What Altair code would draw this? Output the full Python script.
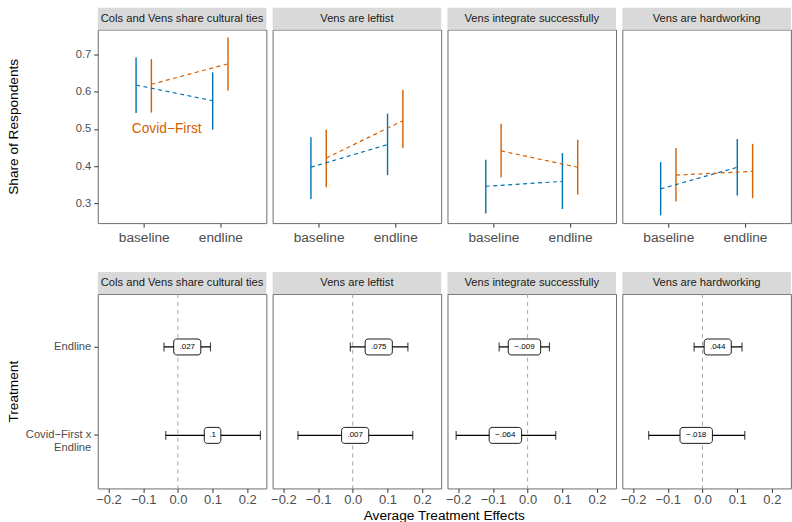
import altair as alt
import pandas as pd

FONT = "Liberation Sans"
BLUE = "#0072B2"
ORANGE = "#D55E00"

panels = ["Cols and Vens share cultural ties", "Vens are leftist",
          "Vens integrate successfully", "Vens are hardworking"]
groups = ["Control", "Covid−First"]
times = ["baseline", "endline"]

# top row: share of respondents, [baseline, endline] per panel
ctrl_mean = [[0.618, 0.576], [0.397, 0.458], [0.346, 0.359], [0.339, 0.397]]
ctrl_lo = [[0.543, 0.498], [0.312, 0.376], [0.273, 0.285], [0.268, 0.321]]
ctrl_hi = [[0.692, 0.652], [0.478, 0.541], [0.417, 0.435], [0.411, 0.473]]
covid_mean = [[0.620, 0.675], [0.422, 0.522], [0.441, 0.397], [0.376, 0.386]]
covid_lo = [[0.544, 0.603], [0.343, 0.449], [0.370, 0.324], [0.305, 0.314]]
covid_hi = [[0.688, 0.746], [0.498, 0.605], [0.514, 0.471], [0.449, 0.460]]

annot_text = ["Covid−First"]
annot_x = [1.3]
annot_y = [0.5]

# bottom row: average treatment effects
rows = ["Endline", "Covid−First x\nEndline"]
est = [[0.027, 0.100], [0.075, 0.007], [-0.009, -0.064], [0.044, -0.018]]
ci_lo = [[-0.040, -0.035], [-0.007, -0.158], [-0.082, -0.206], [-0.024, -0.155]]
ci_hi = [[0.094, 0.238], [0.159, 0.173], [0.063, 0.081], [0.114, 0.122]]
est_labels = [[".027", ".1"], [".075", ".007"], ["−.009", "−.064"], [".044", "−.018"]]
x_title = ["Average Treatment Effects"]

x_ticks_bottom = [-0.2, -0.1, 0.0, 0.1, 0.2]
y_ticks_top = [0.3, 0.4, 0.5, 0.6, 0.7]

W = 169
H_TOP = 194
H_BOT = 195
STRIP = 22
GAP = 6.3
LEFT = 97      # room left of the first panel
TOP = 28       # room above the first plot area
BOTTOM = 34    # room below the last plot area
TOP_XDOM = [0.4, 2.6]
TOP_YDOM = [0.247, 0.767]
BOT_XDOM = [-0.231, 0.255]
PX_PER_UNIT = W / (BOT_XDOM[1] - BOT_XDOM[0])

recs = []
for p, name in enumerate(panels):
    for g, (m, lo, hi) in enumerate([(ctrl_mean, ctrl_lo, ctrl_hi),
                                     (covid_mean, covid_lo, covid_hi)]):
        for t, tname in enumerate(times):
            recs.append({"panel": name, "group": groups[g], "time": tname,
                         "mean": m[p][t], "lo": lo[p][t], "hi": hi[p][t]})
top_df = pd.DataFrame(recs)

recs = []
for p, name in enumerate(panels):
    for r, rname in enumerate(rows):
        recs.append({"panel": name, "row": rname, "est": est[p][r],
                     "lo": ci_lo[p][r], "hi": ci_hi[p][r], "lab": est_labels[p][r]})
bot_df = pd.DataFrame(recs)

color = alt.Color("group:N", scale=alt.Scale(domain=groups, range=[BLUE, ORANGE]), legend=None)


def strip_layers(name):
    sdf = pd.DataFrame({"panel": [name]})
    rect = alt.Chart(sdf).mark_rect(fill="#D9D9D9").encode(
        x=alt.value(0), x2=alt.value(W), y=alt.value(-STRIP), y2=alt.value(0))
    txt = alt.Chart(sdf).mark_text(font=FONT, fontSize=11.2, color="#1A1A1A").encode(
        x=alt.value(W / 2), y=alt.value(-STRIP / 2), text="panel:N")
    return [rect, txt]


def anchor(x1, x2, y1, y2):
    # invisible frame that fixes the outer extent of the drawing
    adf = pd.DataFrame({"a": [0]})
    return alt.Chart(adf).mark_rect(opacity=0).encode(
        x=alt.value(x1), x2=alt.value(x2), y=alt.value(y1), y2=alt.value(y2))


def top_panel(i):
    name = panels[i]
    df = top_df[top_df.panel == name]
    base = alt.Chart(df).transform_calculate(
        pos=f"indexof({times}, datum.time) + 1 + (datum.group == '{groups[1]}' ? 0.1 : -0.1)"
    )
    xaxis = alt.Axis(values=[1, 2], labelExpr=f"{times}[datum.value - 1]", title=None,
                     labelFontSize=13.7)
    xscale = alt.Scale(domain=TOP_XDOM, nice=False, zero=False)
    xenc = alt.X("pos:Q", scale=xscale, axis=xaxis)
    yscale = alt.Scale(domain=TOP_YDOM, nice=False, zero=False)
    if i == 0:
        yaxis = alt.Axis(values=y_ticks_top, format=".1f", title="Share of Respondents",
                         titleX=-80, titleBaseline="alphabetic")
    else:
        yaxis = None
    rules = base.mark_rule(strokeWidth=1.4).encode(
        x=xenc, y=alt.Y("lo:Q", scale=yscale, axis=yaxis), y2="hi:Q", color=color)
    lines = base.mark_line(strokeDash=[4, 3.5], strokeWidth=1.2).encode(
        x=xenc, y=alt.Y("mean:Q", scale=yscale, axis=yaxis), color=color, detail="group:N")
    layers = [rules, lines]
    if i == 0:
        adf = pd.DataFrame({"t": annot_text, "x": annot_x, "y": annot_y})
        ann = alt.Chart(adf).mark_text(font=FONT, fontSize=13.8, color=ORANGE).encode(
            x=alt.X("x:Q", scale=xscale, axis=xaxis),
            y=alt.Y("y:Q", scale=yscale, axis=yaxis), text="t:N")
        layers.append(ann)
        layers.append(anchor(-LEFT, 0, -TOP, 0))
    layers += strip_layers(name)
    return alt.layer(*layers).properties(width=W, height=H_TOP)


def bot_panel(i):
    name = panels[i]
    df = bot_df[bot_df.panel == name]
    base = alt.Chart(df).transform_calculate(
        bl=f"datum.est - (5.3 * length(datum.lab) + 6) / 2 / {PX_PER_UNIT}",
        br=f"datum.est + (5.3 * length(datum.lab) + 6) / 2 / {PX_PER_UNIT}",
    )
    xscale = alt.Scale(domain=BOT_XDOM, nice=False, zero=False)
    xaxis = alt.Axis(values=x_ticks_bottom, format=".1f", title=None, labelFontSize=13,
                     labelPadding=1.5)
    yscale = alt.Scale(type="band", domain=rows, paddingInner=0, paddingOuter=0.1)
    if i == 0:
        yaxis = alt.Axis(title="Treatment", labelExpr="split(datum.label, '\\n')",
                         labelLineHeight=13, titleX=-80, titleBaseline="alphabetic")
    else:
        yaxis = None
    yenc = alt.Y("row:N", scale=yscale, axis=yaxis, sort=rows)
    zdf = pd.DataFrame({"z": [0.0]})
    zero = alt.Chart(zdf).mark_rule(color="#999999", strokeDash=[4, 4], strokeWidth=0.9).encode(
        x=alt.X("z:Q", scale=xscale, axis=xaxis))
    bar = base.mark_rule(color="black", strokeWidth=1.2).encode(
        x=alt.X("lo:Q", scale=xscale, axis=xaxis), x2="hi:Q", y=yenc)
    cap_l = base.mark_tick(color="black", thickness=1.2, size=9).encode(
        x=alt.X("lo:Q", scale=xscale, axis=xaxis), y=yenc)
    cap_r = base.mark_tick(color="black", thickness=1.2, size=9).encode(
        x=alt.X("hi:Q", scale=xscale, axis=xaxis), y=yenc)
    box = base.mark_rect(fill="white", stroke="black", strokeWidth=0.9, cornerRadius=3,
                         height=16).encode(
        x=alt.X("bl:Q", scale=xscale, axis=xaxis), x2="br:Q", y=yenc)
    txt = base.mark_text(font=FONT, fontSize=8, color="black").encode(
        x=alt.X("est:Q", scale=xscale, axis=xaxis), y=yenc, text="lab:N")
    layers = [zero, bar, cap_l, cap_r, box, txt]
    if i == 0:
        layers.append(anchor(-LEFT, 0, H_BOT, H_BOT + BOTTOM))
    if i == 1:
        # shared x-axis title, centred under all four panels
        tdf = pd.DataFrame({"t": x_title})
        center = (4 * W + 3 * GAP) / 2 - (W + GAP)
        layers.append(alt.Chart(tdf).mark_text(font=FONT, fontSize=13.7, color="black",
                                               baseline="middle").encode(
            x=alt.value(center), y=alt.value(H_BOT + 27.5), text="t:N"))
    layers += strip_layers(name)
    return alt.layer(*layers).properties(width=W, height=H_BOT)


chart = alt.concat(
    *([top_panel(i) for i in range(4)] + [bot_panel(i) for i in range(4)]),
    columns=4, spacing={"row": 71, "column": GAP}, bounds="flush",
).properties(
    padding=0,
    background="white",
).configure(font=FONT).configure_view(
    stroke="#6E6E6E", strokeWidth=1, fill="white"
).configure_axis(
    grid=False, domain=False, labelFont=FONT, labelColor="#4D4D4D", labelFontSize=11.2,
    tickColor="#333333", tickSize=4, tickWidth=1, labelPadding=3,
    titleFont=FONT, titleFontSize=13.7, titleFontWeight="normal", titleColor="black",
)

chart.save("out.html", embed_options={"renderer": "svg", "actions": False})
